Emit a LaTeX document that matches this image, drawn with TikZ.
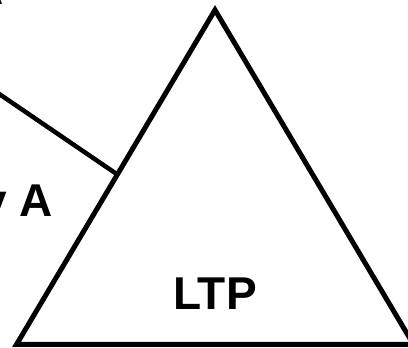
\documentclass[tikz,border=0pt]{standalone}
\usepackage{fontspec}
\setmainfont{Liberation Sans}
\usetikzlibrary{calc}
\begin{document}
\begin{tikzpicture}[x=1pt,y=1pt,
  edge/.style={line width=5pt,line join=miter,black},
  lbl/.style={inner sep=0pt,font=\fontsize{46}{50}\selectfont\bfseries}]
\useasboundingbox (0,0) rectangle (408,348);
\clip (0,0) rectangle (408,348);
\coordinate (apex) at (215,338);
\coordinate (bl) at (16.5,3.5);
\coordinate (br) at (413.5,3.5);
\draw[edge] (apex) -- (bl) -- (br) -- cycle;
\coordinate (j) at ($(apex)!0.4918!(bl)$);
\coordinate (s) at (-20,267.1);
\draw[line width=4.5pt,black] (s) -- (j);
\node[lbl,anchor=base east] (pa) at (53,131) {Pathway A};
\node[lbl,anchor=base] (ltp) at (215,38) {LTP};
\node[lbl,anchor=base east] (top) at (3.5,343) {A};
\end{tikzpicture}
\end{document}
